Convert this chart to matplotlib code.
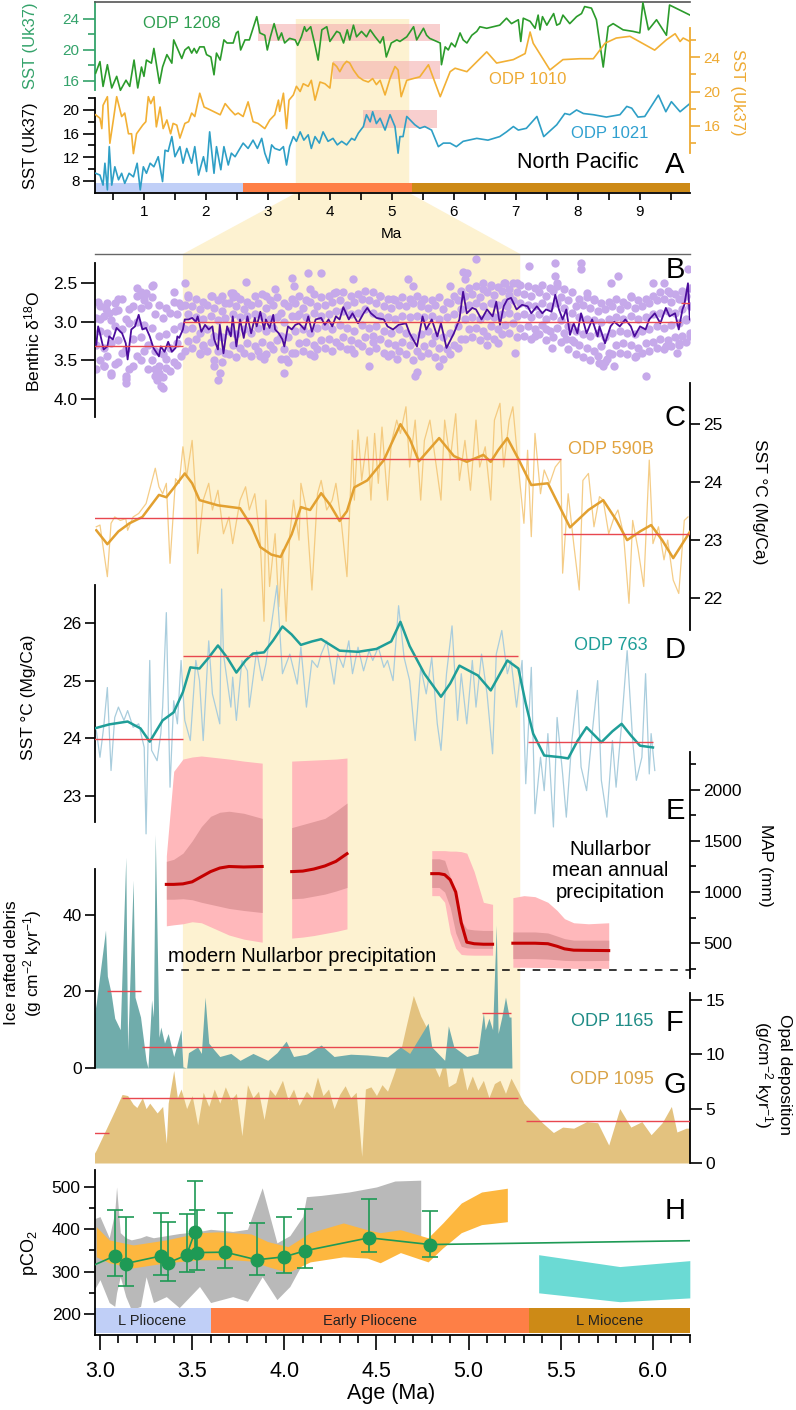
import matplotlib
matplotlib.use("Agg")
import matplotlib.pyplot as plt
import numpy as np
from matplotlib.patches import Polygon
from matplotlib.ticker import MultipleLocator

plt.rcParams["font.family"] = ["Liberation Sans", "DejaVu Sans"]
plt.rcParams["mathtext.fontset"] = "custom"
plt.rcParams["mathtext.rm"] = "Liberation Sans"
plt.rcParams["mathtext.it"] = "Liberation Sans:italic"
plt.rcParams["mathtext.default"] = "regular"

W, H = 796, 1410

# ---------------- data ----------------
# interval highlighted in yellow (Ma)
HL = (3.45, 5.28)

# Panel A, North Pacific alkenone SST
odp1208_age = [0.22, 0.29, 0.34, 0.41, 0.48, 0.56, 0.62, 0.71, 0.77, 0.84, 0.90, 0.96, 1.00, 1.04, 1.12, 1.16, 1.25,
               1.30, 1.37, 1.45, 1.48, 1.55, 1.61, 1.66, 1.72, 1.77, 1.81, 1.85, 1.90, 1.97, 2.01, 2.08, 2.13, 2.17,
               2.23, 2.29, 2.34, 2.44, 2.49, 2.52, 2.56, 2.63, 2.70, 2.76, 2.82, 2.87, 2.95, 2.99, 3.04, 3.10, 3.17,
               3.22, 3.27, 3.35, 3.44, 3.48, 3.54, 3.59, 3.62, 3.69, 3.76, 3.81, 3.87, 3.95, 4.00, 4.05, 4.11, 4.16,
               4.22, 4.28, 4.32, 4.38, 4.43, 4.51, 4.59, 4.65, 4.73, 4.81, 4.86, 4.91, 4.99, 5.08, 5.13, 5.24, 5.35,
               5.40, 5.51, 5.56, 5.61, 5.78, 5.80, 5.86, 5.91, 5.96, 6.02, 6.10, 6.15, 6.21, 6.29, 6.37, 6.42, 6.53,
               6.74, 6.85, 6.93, 7.04, 7.08, 7.12, 7.23, 7.31, 7.36, 7.39, 7.43, 7.50, 7.55, 7.61, 7.66, 7.71, 7.76,
               7.82, 7.87, 7.98, 8.06, 8.11, 8.22, 8.30, 8.41, 8.49, 8.57, 8.73, 8.89, 9.00, 9.05, 9.14, 9.27, 9.43,
               9.48, 9.81]
odp1208_sst = [17.0, 18.5, 15.3, 18.1, 15.1, 16.6, 14.8, 16.1, 15.3, 18.7, 15.1, 17.8, 16.6, 18.7, 18.3, 20.2, 15.7,
               17.8, 19.4, 18.3, 21.3, 20.0, 18.9, 20.0, 20.4, 19.6, 20.2, 19.6, 20.4, 20.4, 19.4, 19.1, 16.8, 19.6,
               18.7, 21.3, 20.9, 20.9, 22.2, 22.4, 20.0, 21.3, 21.3, 22.8, 24.3, 22.2, 21.9, 20.0, 21.7, 23.4, 21.3,
               22.2, 20.9, 21.5, 21.3, 20.6, 21.7, 23.0, 22.4, 23.0, 20.6, 18.7, 22.6, 23.0, 21.1, 21.7, 22.4, 22.2,
               20.9, 22.6, 21.3, 23.2, 21.7, 22.4, 21.7, 22.6, 21.7, 20.9, 21.7, 19.1, 20.9, 21.3, 21.1, 21.7, 23.0,
               21.3, 22.8, 21.9, 21.5, 20.9, 18.1, 20.4, 20.0, 20.9, 20.4, 22.2, 21.3, 20.9, 21.9, 22.4, 23.0, 22.8,
               23.2, 24.1, 23.4, 23.9, 21.1, 24.1, 23.7, 22.8, 24.5, 22.6, 24.3, 23.2, 23.9, 24.7, 23.2, 23.4, 24.5,
               23.9, 23.4, 24.3, 24.7, 25.6, 25.4, 23.9, 17.8, 23.0, 23.4, 22.6, 22.4, 22.2, 26.1, 22.6, 23.9, 21.9,
               25.8, 24.5]

odp1010_age = [0.22, 0.29, 0.32, 0.34, 0.41, 0.45, 0.51, 0.56, 0.64, 0.69, 0.75, 0.80, 0.83, 0.88, 0.94, 0.98, 1.03,
               1.07, 1.11, 1.16, 1.20, 1.26, 1.31, 1.37, 1.43, 1.47, 1.53, 1.58, 1.66, 1.72, 1.77, 1.82, 1.90, 1.97,
               2.06, 2.23, 2.31, 2.39, 2.47, 2.52, 2.60, 2.68, 2.76, 2.84, 2.95, 3.03, 3.11, 3.17, 3.19, 3.25, 3.30,
               3.34, 3.41, 3.46, 3.52, 3.57, 3.65, 3.70, 3.76, 3.84, 3.92, 4.00, 4.05, 4.11, 4.16, 4.22, 4.27, 4.32,
               4.38, 4.46, 4.54, 4.62, 4.69, 4.75, 4.81, 4.89, 4.97, 5.05, 5.10, 5.15, 5.24, 5.45, 5.59, 5.78, 5.94,
               6.02, 6.21, 6.53, 6.69, 6.96, 7.15, 7.23, 7.28, 7.55, 7.76, 8.03, 8.25, 8.44, 8.62, 8.84, 9.24, 9.43,
               9.57, 9.65, 9.70, 9.81]
odp1010_sst = [17.3, 16.9, 15.7, 18.4, 19.4, 14.0, 16.9, 19.4, 17.1, 17.5, 15.1, 15.1, 12.8, 15.1, 15.7, 16.1, 16.5,
               19.4, 18.6, 19.4, 15.9, 18.2, 15.7, 16.7, 15.1, 16.3, 16.1, 14.6, 16.3, 16.5, 17.5, 17.1, 19.8, 18.2,
               17.9, 17.3, 18.6, 17.9, 17.3, 17.5, 17.1, 18.8, 16.5, 16.3, 15.7, 16.7, 17.3, 19.0, 17.7, 19.8, 15.7,
               19.0, 19.6, 20.6, 20.0, 20.9, 20.6, 21.3, 19.0, 21.1, 20.9, 20.4, 23.3, 22.9, 22.3, 23.1, 23.5, 23.3,
               22.5, 21.7, 21.3, 21.1, 21.5, 20.8, 21.3, 19.6, 21.5, 22.9, 22.5, 19.4, 21.3, 21.7, 23.1, 19.4, 22.3,
               22.7, 22.3, 24.6, 23.3, 23.7, 24.4, 26.9, 25.6, 22.5, 23.7, 23.8, 23.8, 25.6, 26.2, 26.4, 24.8, 26.0,
               26.7, 25.8, 26.2, 25.8]

odp1021_age = [0.22, 0.29, 0.34, 0.37, 0.41, 0.44, 0.48, 0.53, 0.59, 0.64, 0.69, 0.76, 0.83, 0.89, 0.94, 0.99, 1.04,
               1.10, 1.16, 1.23, 1.30, 1.34, 1.39, 1.45, 1.50, 1.58, 1.63, 1.69, 1.77, 1.82, 1.88, 1.96, 2.01, 2.06,
               2.13, 2.17, 2.24, 2.29, 2.36, 2.41, 2.47, 2.52, 2.60, 2.68, 2.76, 2.83, 2.90, 2.95, 3.01, 3.06, 3.11,
               3.19, 3.25, 3.30, 3.35, 3.41, 3.46, 3.52, 3.58, 3.65, 3.70, 3.76, 3.83, 3.89, 3.97, 4.05, 4.12, 4.19,
               4.27, 4.35, 4.40, 4.46, 4.54, 4.59, 4.65, 4.69, 4.75, 4.81, 4.89, 4.97, 5.05, 5.10, 5.13, 5.18, 5.24,
               5.37, 5.45, 5.53, 5.64, 5.75, 5.83, 5.94, 6.04, 6.15, 6.37, 6.55, 6.74, 6.85, 6.96, 7.04, 7.17, 7.34,
               7.45, 7.66, 7.79, 7.87, 7.98, 8.09, 8.25, 8.46, 8.68, 8.79, 8.87, 8.97, 9.08, 9.30, 9.42, 9.51, 9.65,
               9.81]
odp1021_sst = [9.3, 9.0, 7.3, 11.0, 6.5, 13.8, 7.3, 10.4, 8.2, 9.3, 7.6, 9.3, 8.7, 11.0, 6.5, 10.4, 9.3, 11.0, 10.4,
               12.1, 7.9, 13.2, 13.0, 15.5, 12.1, 13.8, 11.0, 13.5, 11.0, 13.8, 9.0, 12.1, 9.6, 16.3, 9.3, 13.8, 9.9,
               13.8, 10.7, 12.7, 12.1, 13.0, 14.4, 13.5, 14.9, 13.5, 15.2, 12.7, 11.0, 14.1, 13.5, 13.2, 13.8, 10.7,
               13.8, 15.5, 14.7, 16.3, 14.9, 15.8, 13.5, 15.5, 14.4, 16.3, 14.7, 15.2, 14.1, 14.7, 14.1, 15.2, 14.9,
               16.1, 17.2, 19.2, 18.0, 19.7, 17.7, 18.6, 16.6, 19.2, 17.2, 12.7, 15.5, 15.5, 18.9, 17.5, 16.9, 17.2,
               16.6, 13.8, 14.4, 14.4, 13.8, 14.7, 15.2, 14.9, 15.5, 16.3, 17.2, 16.6, 16.9, 18.9, 15.5, 17.5, 19.4,
               19.2, 20.0, 19.4, 19.2, 18.8, 19.2, 20.6, 20.3, 18.8, 18.9, 22.5, 19.7, 21.4, 19.7, 21.1]

# warm-interval boxes in panel A: (start, end, low, high)
box_1208 = (2.84, 5.78, 21.2, 23.4)
box_1010 = (4.05, 5.78, 21.5, 23.5)
box_1021 = (4.54, 5.72, 17.0, 20.0)

# epoch bars
epochA_edges = [0.21, 2.6, 5.33, 9.81]
epochH_edges = [2.97, 3.6, 5.33, 6.2]
epoch_names = ["L Pliocene", "Early Pliocene", "L Miocene"]
epoch_colors = ["#C0CFF7", "#FE7F46", "#CD8A16"]

# Panel B, benthic d18O
benthic_age = [2.98, 2.99, 3.00, 3.02, 3.04, 3.05, 3.07, 3.09, 3.12, 3.14, 3.15, 3.17, 3.19, 3.21, 3.23, 3.25, 3.27,
               3.29, 3.32, 3.33, 3.35, 3.37, 3.39, 3.41, 3.42, 3.43, 3.45, 3.46, 3.48, 3.50, 3.52, 3.53, 3.55, 3.57,
               3.59, 3.61, 3.62, 3.64, 3.65, 3.67, 3.69, 3.71, 3.72, 3.74, 3.76, 3.78, 3.80, 3.82, 3.84, 3.85, 3.87,
               3.89, 3.90, 3.92, 3.94, 3.95, 3.97, 3.99, 4.00, 4.02, 4.04, 4.06, 4.08, 4.11, 4.13, 4.15, 4.17, 4.20,
               4.22, 4.24, 4.26, 4.28, 4.30, 4.32, 4.35, 4.37, 4.40, 4.43, 4.45, 4.47, 4.50, 4.54, 4.56, 4.59, 4.62,
               4.66, 4.68, 4.72, 4.75, 4.77, 4.80, 4.83, 4.85, 4.88, 4.92, 4.95, 4.97, 4.99, 5.02, 5.04, 5.07, 5.10,
               5.13, 5.15, 5.17, 5.19, 5.21, 5.23, 5.26, 5.29, 5.32, 5.34, 5.37, 5.40, 5.42, 5.45, 5.47, 5.49, 5.51,
               5.53, 5.55, 5.57, 5.59, 5.61, 5.64, 5.67, 5.70, 5.71, 5.74, 5.77, 5.79, 5.82, 5.85, 5.88, 5.90, 5.93,
               5.96, 5.98, 6.01, 6.04, 6.07, 6.09, 6.12, 6.14, 6.16, 6.17, 6.19, 6.20]
benthic_d18o = [3.30, 3.06, 3.15, 3.36, 3.32, 3.19, 3.23, 3.08, 3.15, 3.28, 3.49, 3.10, 3.06, 2.91, 3.10, 3.08, 3.19,
                3.34, 3.45, 3.32, 3.39, 3.26, 3.39, 3.34, 3.19, 3.21, 3.10, 2.97, 2.97, 2.95, 3.00, 2.93, 3.13, 3.04,
                3.10, 3.06, 3.23, 3.36, 3.04, 3.41, 3.06, 3.19, 2.93, 3.32, 2.97, 3.21, 2.93, 3.15, 2.95, 3.06, 2.87,
                3.10, 2.97, 3.08, 2.91, 3.10, 3.15, 3.23, 3.32, 3.06, 3.10, 3.04, 3.02, 3.10, 2.93, 3.13, 2.97, 2.95,
                3.04, 2.97, 3.06, 2.93, 2.97, 2.81, 2.97, 2.89, 3.02, 2.89, 2.82, 2.89, 2.95, 2.97, 3.06, 3.10, 3.04,
                3.02, 3.15, 3.32, 2.93, 3.10, 2.97, 3.19, 3.02, 3.34, 3.15, 2.97, 2.61, 2.89, 2.82, 2.84, 2.97, 2.84,
                2.93, 2.74, 3.04, 2.80, 2.71, 2.69, 2.84, 2.78, 2.80, 2.89, 2.80, 2.89, 2.84, 2.87, 2.65, 2.84, 2.97,
                2.84, 3.17, 3.02, 3.15, 2.89, 3.15, 2.97, 3.19, 3.06, 3.28, 3.06, 3.00, 3.06, 2.97, 3.06, 3.19, 3.06,
                3.10, 2.97, 2.89, 3.02, 2.82, 2.93, 2.89, 3.10, 2.84, 2.78, 2.50, 2.97]

# individual benthic measurements (scatter cloud)
cloud_age_a = [2.98, 3.02, 3.06, 3.10, 3.14, 3.18, 3.22, 3.26, 3.30, 3.34, 3.38, 3.42, 3.46, 3.50, 3.54, 3.58, 3.62,
               3.66, 3.70, 3.74, 3.78, 3.82, 3.86, 3.90, 3.94, 3.98, 4.02, 4.06, 4.10, 4.14, 4.18, 4.22, 4.26, 4.30,
               4.34, 4.38, 4.42, 4.46, 4.50, 4.54, 4.58, 4.62, 4.66, 4.70, 4.74, 4.78, 4.82, 4.86, 4.90, 4.94, 4.98,
               5.02, 5.06, 5.10, 5.14, 5.18, 5.22, 5.26, 5.30, 5.34, 5.38, 5.42, 5.46, 5.50, 5.54, 5.58, 5.62, 5.66,
               5.70, 5.74, 5.78, 5.82, 5.86, 5.90, 5.94, 5.98, 6.02, 6.06, 6.10, 6.14, 6.18]
cloud_age_b = [3.00, 3.04, 3.08, 3.12, 3.16, 3.20, 3.24, 3.28, 3.32, 3.36, 3.40, 3.44, 3.48, 3.52, 3.56, 3.60, 3.64,
               3.68, 3.72, 3.76, 3.80, 3.84, 3.88, 3.92, 3.96, 4.00, 4.04, 4.08, 4.12, 4.16, 4.20, 4.24, 4.28, 4.32,
               4.36, 4.40, 4.44, 4.48, 4.52, 4.56, 4.60, 4.64, 4.68, 4.72, 4.76, 4.80, 4.84, 4.88, 4.92, 4.96, 5.00,
               5.04, 5.08, 5.12, 5.16, 5.20, 5.24, 5.28, 5.32, 5.36, 5.40, 5.44, 5.48, 5.52, 5.56, 5.60, 5.64, 5.68,
               5.72, 5.76, 5.80, 5.84, 5.88, 5.92, 5.96, 6.00, 6.04, 6.08, 6.12, 6.16, 6.20]
cloud_top = [2.80, 2.75, 2.86, 2.70, 2.84, 2.66, 2.72, 2.68, 2.78, 2.82, 2.74, 2.80, 2.68, 2.70, 2.74, 2.66, 2.72,
             2.76, 2.68, 2.70, 2.74, 2.66, 2.64, 2.72, 2.68, 2.76, 2.70, 2.66, 2.72, 2.64, 2.68, 2.66, 2.62, 2.62,
             2.66, 2.64, 2.60, 2.62, 2.66, 2.70, 2.72, 2.68, 2.70, 2.66, 2.70, 2.72, 2.68, 2.74, 2.66, 2.60, 2.56,
             2.54, 2.58, 2.52, 2.55, 2.50, 2.50, 2.52, 2.54, 2.56, 2.52, 2.56, 2.50, 2.58, 2.62, 2.70, 2.68, 2.72,
             2.76, 2.74, 2.70, 2.74, 2.68, 2.72, 2.70, 2.66, 2.62, 2.60, 2.64, 2.60, 2.56]
cloud_upper = [2.95, 2.92, 2.98, 2.85, 2.96, 2.80, 2.82, 2.78, 2.90, 2.95, 2.88, 2.90, 2.78, 2.80, 2.84, 2.78, 2.82,
               2.86, 2.76, 2.80, 2.84, 2.78, 2.75, 2.82, 2.78, 2.88, 2.80, 2.76, 2.82, 2.74, 2.80, 2.78, 2.74, 2.72,
               2.78, 2.74, 2.70, 2.72, 2.76, 2.80, 2.82, 2.78, 2.80, 2.76, 2.80, 2.82, 2.78, 2.84, 2.76, 2.72, 2.66,
               2.64, 2.68, 2.62, 2.65, 2.60, 2.58, 2.62, 2.64, 2.66, 2.62, 2.66, 2.60, 2.68, 2.72, 2.80, 2.78, 2.82,
               2.86, 2.84, 2.80, 2.84, 2.78, 2.82, 2.80, 2.76, 2.72, 2.70, 2.74, 2.70, 2.66]
cloud_mid_upper = [3.12, 3.15, 3.05, 3.10, 3.02, 3.00, 3.04, 3.08, 3.18, 3.16, 3.10, 3.05, 2.90, 2.94, 2.96, 2.92, 2.98,
                   2.95, 2.90, 2.94, 2.92, 2.90, 2.92, 2.96, 2.94, 3.00, 2.92, 2.90, 2.94, 2.88, 2.92, 2.90, 2.86, 2.86,
                   2.90, 2.88, 2.84, 2.88, 2.92, 2.94, 2.96, 2.92, 2.94, 2.92, 2.94, 2.92, 2.96, 2.94, 2.90, 2.84, 2.78,
                   2.76, 2.80, 2.76, 2.78, 2.74, 2.72, 2.76, 2.78, 2.80, 2.76, 2.80, 2.76, 2.82, 2.88, 2.94, 2.96, 2.98,
                   3.00, 2.96, 2.94, 2.96, 2.92, 2.96, 2.94, 2.90, 2.88, 2.86, 2.88, 2.84, 2.80]
cloud_mid_lower = [3.30, 3.34, 3.28, 3.24, 3.36, 3.22, 3.20, 3.30, 3.38, 3.42, 3.34, 3.28, 3.10, 3.08, 3.14, 3.10, 3.18,
                   3.20, 3.12, 3.16, 3.10, 3.14, 3.08, 3.12, 3.08, 3.18, 3.20, 3.12, 3.10, 3.14, 3.08, 3.06, 3.10, 3.04,
                   3.08, 3.12, 3.04, 3.08, 3.06, 3.12, 3.14, 3.10, 3.14, 3.20, 3.16, 3.12, 3.18, 3.20, 3.14, 3.06, 2.96,
                   2.94, 2.96, 2.92, 2.94, 2.90, 2.88, 2.92, 2.90, 2.94, 2.90, 2.96, 2.92, 2.98, 3.06, 3.12, 3.16, 3.18,
                   3.14, 3.20, 3.14, 3.12, 3.14, 3.16, 3.12, 3.10, 3.06, 3.08, 3.04, 3.02, 2.98]
cloud_lower = [3.50, 3.45, 3.55, 3.40, 3.62, 3.45, 3.38, 3.50, 3.58, 3.60, 3.52, 3.44, 3.25, 3.22, 3.30, 3.26, 3.38,
               3.40, 3.30, 3.34, 3.28, 3.32, 3.26, 3.30, 3.24, 3.36, 3.40, 3.28, 3.26, 3.30, 3.24, 3.22, 3.26, 3.20,
               3.24, 3.28, 3.20, 3.26, 3.22, 3.28, 3.30, 3.26, 3.30, 3.38, 3.32, 3.28, 3.34, 3.36, 3.30, 3.22, 3.10,
               3.08, 3.12, 3.06, 3.10, 3.04, 3.02, 3.08, 3.06, 3.10, 3.04, 3.12, 3.08, 3.14, 3.24, 3.30, 3.34, 3.38,
               3.32, 3.40, 3.30, 3.28, 3.30, 3.34, 3.28, 3.26, 3.22, 3.24, 3.20, 3.18, 3.14]
cloud_bottom = [3.62, 3.58, 3.66, 3.52, 3.74, 3.58, 3.50, 3.62, 3.70, 3.72, 3.64, 3.56, 3.38, 3.34, 3.42, 3.38, 3.50,
                3.52, 3.42, 3.46, 3.40, 3.44, 3.38, 3.42, 3.36, 3.48, 3.52, 3.40, 3.38, 3.42, 3.36, 3.34, 3.38, 3.32,
                3.36, 3.40, 3.32, 3.38, 3.34, 3.40, 3.42, 3.38, 3.42, 3.50, 3.44, 3.40, 3.46, 3.48, 3.42, 3.34, 3.22,
                3.20, 3.24, 3.18, 3.22, 3.16, 3.14, 3.20, 3.18, 3.22, 3.16, 3.24, 3.20, 3.26, 3.36, 3.42, 3.46, 3.50,
                3.44, 3.52, 3.42, 3.40, 3.42, 3.46, 3.40, 3.38, 3.34, 3.36, 3.32, 3.30, 3.26]
outlier_age = [2.99, 3.00, 3.02, 3.03, 3.05, 3.06, 3.08, 3.10, 3.14, 3.14, 3.20, 3.22, 3.24, 3.25, 3.28, 3.29, 3.30,
               3.31, 3.33, 3.34, 3.32, 3.36, 3.40, 3.43, 3.46, 3.48, 3.54, 3.56, 3.61, 3.62, 3.64, 3.65, 3.66, 3.71,
               3.72, 3.74, 3.79, 3.87, 3.89, 3.90, 3.95, 4.00, 4.01, 4.04, 4.05, 4.07, 4.13, 4.14, 4.16, 4.20, 4.27,
               4.36, 4.37, 4.46, 4.48, 4.56, 4.61, 4.52, 4.59, 4.67, 4.70, 4.74, 4.72, 4.71, 4.84, 4.90, 4.97, 4.99,
               5.04, 4.98, 5.08, 5.10, 5.12, 5.13, 5.16, 5.19, 5.21, 5.22, 5.25, 5.26, 5.33, 5.36, 5.42, 5.45, 5.47,
               5.47, 5.48, 5.53, 5.57, 5.61, 5.61, 5.64, 5.68, 5.71, 5.73, 5.75, 5.79, 5.77, 5.81, 5.88, 5.91, 5.96,
               6.00, 6.06, 6.07, 6.09, 6.13, 6.14, 6.16, 6.18, 6.19, 6.20]
outlier_d18o = [2.74, 2.97, 3.58, 2.84, 2.89, 3.69, 2.76, 2.71, 3.80, 3.71, 2.56, 2.61, 2.67, 2.63, 2.54, 2.52, 3.62,
                3.75, 3.84, 3.86, 3.67, 3.49, 2.61, 2.76, 2.50, 2.65, 3.41, 3.32, 2.67, 3.58, 3.75, 3.67, 2.67, 2.63,
                2.63, 2.67, 2.48, 3.45, 3.49, 2.67, 2.58, 3.67, 3.49, 2.43, 2.54, 2.93, 2.37, 2.58, 3.45, 2.37, 2.63,
                3.36, 2.45, 3.58, 3.19, 3.45, 3.49, 2.67, 2.71, 2.45, 2.54, 2.76, 3.65, 3.71, 3.58, 2.54, 2.35, 2.37,
                2.19, 2.45, 2.50, 3.30, 2.54, 2.76, 3.28, 2.50, 2.80, 2.65, 3.41, 2.50, 2.28, 3.19, 3.10, 3.34, 2.24,
                2.41, 2.54, 3.23, 3.26, 2.24, 2.32, 2.63, 2.71, 3.54, 3.58, 3.49, 3.58, 2.50, 2.41, 2.67, 3.45, 3.71,
                2.50, 2.50, 3.32, 2.63, 3.41, 3.28, 2.71, 2.97, 2.32, 3.19]
benthic_mean_start = [2.97, 3.45, 6.15]
benthic_mean_end = [3.45, 6.15, 6.20]
benthic_mean = [3.31, 3.00, 2.75]

# Panel C, ODP 590B Mg/Ca SST
c_raw_age = [2.98, 3.00, 3.04, 3.06, 3.08, 3.11, 3.14, 3.15, 3.18, 3.21, 3.25, 3.30, 3.32, 3.34, 3.36, 3.38, 3.41,
             3.43, 3.45, 3.47, 3.50, 3.52, 3.53, 3.56, 3.59, 3.61, 3.64, 3.67, 3.70, 3.72, 3.76, 3.79, 3.81, 3.84,
             3.87, 3.89, 3.90, 3.92, 3.95, 3.97, 3.99, 4.01, 4.03, 4.05, 4.08, 4.09, 4.12, 4.15, 4.18, 4.20, 4.23,
             4.26, 4.28, 4.31, 4.34, 4.37, 4.38, 4.40, 4.42, 4.45, 4.47, 4.49, 4.51, 4.53, 4.56, 4.58, 4.61, 4.63,
             4.66, 4.68, 4.71, 4.74, 4.76, 4.79, 4.82, 4.85, 4.87, 4.90, 4.93, 4.95, 4.98, 5.01, 5.04, 5.06, 5.09,
             5.12, 5.14, 5.17, 5.19, 5.22, 5.24, 5.27, 5.30, 5.32, 5.34, 5.36, 5.39, 5.41, 5.44, 5.47, 5.50, 5.51,
             5.54, 5.57, 5.60, 5.62, 5.65, 5.68, 5.71, 5.73, 5.76, 5.79, 5.81, 5.84, 5.87, 5.89, 5.92, 5.95, 5.98,
             6.00, 6.03, 6.06, 6.08, 6.11, 6.14, 6.17, 6.19]
c_raw = [23.23, 23.26, 22.37, 23.29, 23.40, 23.34, 23.37, 23.17, 23.40, 23.46, 23.63, 24.24, 23.92, 23.80, 23.98,
         22.60, 24.06, 23.98, 24.61, 24.09, 24.72, 23.75, 22.77, 23.69, 23.98, 23.52, 23.86, 23.11, 23.40, 22.94,
         23.69, 23.92, 23.52, 23.80, 22.94, 21.60, 23.69, 22.20, 23.11, 21.85, 22.83, 21.60, 23.11, 23.69, 23.00,
         23.98, 23.52, 22.14, 23.80, 24.03, 23.52, 23.69, 23.98, 23.29, 22.37, 24.72, 23.69, 24.90, 24.03, 24.78,
         23.69, 24.84, 23.98, 24.95, 23.69, 24.67, 25.07, 24.84, 25.30, 24.26, 25.07, 23.69, 24.72, 25.07, 24.38,
         23.69, 25.07, 24.38, 25.18, 24.03, 24.72, 23.86, 25.07, 24.26, 24.61, 23.69, 25.07, 25.36, 24.26, 25.07,
         25.30, 24.26, 23.29, 24.55, 23.06, 24.84, 23.80, 24.21, 23.98, 24.26, 24.38, 22.43, 23.80, 22.94, 22.14,
         24.03, 24.15, 23.23, 23.75, 23.69, 23.11, 23.40, 23.52, 23.11, 21.91, 23.34, 22.83, 22.20, 24.38, 22.94,
         23.23, 22.66, 23.00, 22.31, 22.08, 23.34, 23.40]
c_smooth_age = [2.98, 3.04, 3.10, 3.16, 3.23, 3.32, 3.36, 3.40, 3.46, 3.50, 3.54, 3.64, 3.76, 3.82, 3.87, 3.93, 3.98,
                4.04, 4.09, 4.14, 4.20, 4.25, 4.30, 4.34, 4.38, 4.45, 4.54, 4.63, 4.68, 4.73, 4.84, 4.92, 4.99, 5.08,
                5.12, 5.16, 5.21, 5.27, 5.34, 5.43, 5.49, 5.55, 5.65, 5.73, 5.80, 5.86, 5.93, 5.99, 6.05, 6.11, 6.20]
c_smooth = [23.17, 22.93, 23.15, 23.29, 23.40, 23.78, 23.74, 23.90, 24.15, 23.98, 23.69, 23.60, 23.55, 23.25, 22.88,
            22.75, 22.71, 23.10, 23.57, 23.52, 23.81, 23.60, 23.33, 23.50, 23.91, 24.03, 24.38, 25.00, 24.75, 24.36,
            24.76, 24.45, 24.35, 24.47, 24.35, 24.55, 24.76, 24.40, 23.95, 23.98, 23.60, 23.22, 23.52, 23.69, 23.35,
            23.00, 23.15, 23.26, 23.00, 22.69, 23.14]
c_mean_start = [2.97, 4.37, 5.51]
c_mean_end = [4.35, 5.50, 6.20]
c_mean = [23.38, 24.40, 23.10]

# Panel D, ODP 763 Mg/Ca SST
d_raw_age = [2.98, 3.00, 3.02, 3.04, 3.06, 3.08, 3.10, 3.13, 3.15, 3.18, 3.21, 3.24, 3.25, 3.27, 3.28, 3.31, 3.33,
             3.34, 3.36, 3.38, 3.40, 3.42, 3.44, 3.46, 3.49, 3.52, 3.54, 3.56, 3.59, 3.61, 3.65, 3.66, 3.67, 3.71,
             3.72, 3.74, 3.77, 3.80, 3.81, 3.85, 3.88, 3.90, 3.96, 3.99, 4.03, 4.07, 4.09, 4.12, 4.15, 4.18, 4.20,
             4.23, 4.27, 4.29, 4.32, 4.35, 4.37, 4.40, 4.43, 4.46, 4.48, 4.51, 4.54, 4.56, 4.59, 4.62, 4.65, 4.68,
             4.71, 4.74, 4.77, 4.80, 4.83, 4.85, 4.88, 4.91, 4.94, 4.96, 4.99, 5.02, 5.04, 5.07, 5.10, 5.13, 5.15,
             5.18, 5.21, 5.23, 5.26, 5.29, 5.31, 5.34, 5.36, 5.39, 5.41, 5.43, 5.46, 5.48, 5.51, 5.53, 5.56, 5.59,
             5.61, 5.64, 5.67, 5.70, 5.72, 5.75, 5.78, 5.80, 5.83, 5.86, 5.89, 5.91, 5.94, 5.96, 5.98, 5.99, 6.01]
d_raw = [24.13, 23.67, 24.19, 24.88, 23.44, 24.36, 24.54, 24.31, 24.48, 24.19, 24.25, 23.84, 22.34, 25.35, 23.79,
         23.61, 24.08, 24.54, 26.18, 23.15, 24.65, 24.25, 25.35, 24.31, 23.96, 25.35, 25.00, 23.96, 25.69, 24.77,
         24.25, 26.59, 25.46, 24.54, 25.06, 24.31, 25.35, 25.17, 24.54, 25.52, 25.00, 25.29, 26.65, 25.12, 25.46,
         24.94, 25.58, 24.54, 25.35, 25.23, 25.46, 25.69, 24.94, 25.46, 25.23, 25.69, 25.12, 25.58, 25.17, 25.52,
         25.35, 25.58, 25.23, 25.35, 25.00, 26.30, 25.40, 25.00, 23.96, 25.23, 24.77, 25.40, 24.25, 23.79, 25.12,
         25.95, 24.31, 25.12, 24.25, 25.35, 24.54, 25.46, 24.77, 23.73, 25.46, 25.87, 25.12, 25.35, 24.54, 25.35,
         23.21, 25.23, 22.69, 23.67, 23.09, 24.08, 22.46, 24.36, 23.38, 22.63, 23.96, 24.83, 23.50, 23.09, 24.08,
         25.00, 23.27, 22.63, 23.96, 23.15, 24.25, 25.52, 23.96, 23.27, 23.67, 25.12, 23.38, 24.08, 23.44]
d_smooth_age = [2.97, 3.05, 3.15, 3.22, 3.27, 3.34, 3.40, 3.45, 3.49, 3.54, 3.59, 3.64, 3.69, 3.74, 3.79, 3.83, 3.89,
                3.94, 3.99, 4.04, 4.09, 4.15, 4.20, 4.25, 4.30, 4.40, 4.50, 4.58, 4.63, 4.68, 4.76, 4.85, 4.90, 4.95,
                5.05, 5.12, 5.21, 5.27, 5.31, 5.35, 5.41, 5.50, 5.54, 5.59, 5.64, 5.72, 5.78, 5.83, 5.88, 5.93, 6.00]
d_smooth = [24.17, 24.24, 24.29, 24.17, 23.94, 24.31, 24.45, 24.80, 25.23, 25.21, 25.40, 25.61, 25.40, 25.14, 25.35,
            25.47, 25.49, 25.70, 25.94, 25.80, 25.62, 25.68, 25.72, 25.62, 25.52, 25.50, 25.55, 25.68, 26.02, 25.60,
            25.12, 24.72, 24.95, 25.26, 25.09, 24.83, 25.35, 25.21, 24.60, 24.08, 23.70, 23.67, 23.65, 23.95, 24.19,
            23.93, 24.12, 24.25, 24.05, 23.87, 23.84]
d_mean_start = [2.97, 3.45, 5.32]
d_mean_end = [3.45, 5.27, 6.00]
d_mean = [23.98, 25.42, 23.93]

# Panel E, Nullarbor mean annual precipitation (mm): median, 68% and 95% bands
e1_age = [3.36, 3.40, 3.45, 3.50, 3.55, 3.60, 3.65, 3.70, 3.78, 3.88]
e1_med = [1075, 1075, 1080, 1100, 1150, 1200, 1235, 1250, 1245, 1250]
e1_in_lo = [930, 930, 935, 925, 900, 880, 860, 840, 820, 800]
e1_in_hi = [1300, 1320, 1380, 1500, 1640, 1740, 1780, 1790, 1770, 1720]
e1_out_lo = [670, 680, 690, 710, 700, 660, 620, 580, 540, 510]
e1_out_hi = [1354, 2180, 2300, 2320, 2330, 2320, 2310, 2300, 2280, 2260]
e2_age = [4.04, 4.10, 4.16, 4.22, 4.28, 4.34]
e2_med = [1200, 1205, 1225, 1255, 1300, 1375]
e2_in_lo = [935, 940, 960, 980, 1010, 1045]
e2_in_hi = [1630, 1660, 1690, 1720, 1790, 1870]
e2_out_lo = [550, 560, 575, 595, 615, 640]
e2_out_hi = [2280, 2285, 2290, 2295, 2300, 2310]
e3_age = [4.80, 4.84, 4.87, 4.90, 4.93, 4.96, 4.99, 5.03, 5.08, 5.13]
e3_med = [1180, 1180, 1170, 1120, 1000, 700, 510, 495, 490, 490]
e3_in_lo = [1045, 1045, 1000, 850, 600, 470, 455, 450, 450, 450]
e3_in_hi = [1325, 1325, 1310, 1150, 950, 720, 640, 630, 625, 625]
e3_out_lo = [965, 965, 900, 600, 450, 390, 385, 383, 383, 383]
e3_out_hi = [1405, 1405, 1405, 1400, 1400, 1395, 1380, 1200, 900, 880]
e4_age = [5.24, 5.30, 5.36, 5.43, 5.48, 5.52, 5.57, 5.65, 5.76]
e4_med = [500, 500, 500, 495, 470, 445, 432, 430, 428]
e4_in_lo = [350, 350, 350, 345, 338, 332, 330, 330, 332]
e4_in_hi = [610, 610, 610, 600, 570, 545, 530, 530, 530]
e4_out_lo = [265, 265, 263, 262, 260, 257, 255, 255, 255]
e4_out_hi = [945, 965, 955, 900, 820, 740, 700, 690, 700]
modern_map = 240
modern_map_start = 3.36

# Panel F, ODP 1165 ice rafted debris
f_age = [2.97, 2.98, 3.03, 3.04, 3.06, 3.08, 3.11, 3.14, 3.15, 3.18, 3.19, 3.22, 3.25, 3.26, 3.28, 3.29, 3.30, 3.32,
         3.33, 3.35, 3.37, 3.40, 3.42, 3.44, 3.45, 3.47, 3.48, 3.53, 3.55, 3.57, 3.59, 3.62, 3.65, 3.71, 3.76, 3.83,
         3.91, 3.96, 4.01, 4.05, 4.12, 4.20, 4.27, 4.36, 4.45, 4.56, 4.63, 4.68, 4.78, 4.80, 4.87, 4.89, 4.92, 4.99,
         5.05, 5.08, 5.09, 5.11, 5.13, 5.15, 5.16, 5.18, 5.20, 5.22, 5.23, 5.235]
f_ird = [14, 17, 36, 24, 19.6, 13, 10, 55, 4.7, 49, 18.5, 13.3, 2, 0, 17.8, 13.3, 61, 8, 10.7, 6.5, 9, 3, 6.5, 10,
         0.3, 0, 4, 5.5, 3.8, 18.5, 6.5, 4.7, 3, 3.8, 2, 3.8, 2, 4, 7, 3, 3.6, 6, 3, 3.6, 3.4, 2.9, 5.5, 3.8, 11.7,
         5.5, 2, 11, 5.5, 3, 3.8, 14.4, 10, 13, 10, 37.3, 9, 13.3, 18.5, 13.3, 13.3, 0]
f_mean_start = [3.04, 3.23, 5.07]
f_mean_end = [3.22, 5.05, 5.23]
f_mean = [20.0, 5.5, 14.4]

# Panel G, ODP 1095 opal deposition
g_age = [2.97, 2.98, 3.03, 3.08, 3.12, 3.15, 3.18, 3.20, 3.23, 3.25, 3.27, 3.31, 3.34, 3.36, 3.37, 3.40, 3.42, 3.44,
         3.47, 3.50, 3.53, 3.56, 3.59, 3.62, 3.65, 3.68, 3.71, 3.74, 3.77, 3.80, 3.83, 3.86, 3.89, 3.92, 3.95, 3.99,
         4.02, 4.05, 4.08, 4.12, 4.15, 4.18, 4.21, 4.24, 4.27, 4.30, 4.33, 4.36, 4.39, 4.42, 4.44, 4.47, 4.50, 4.53,
         4.56, 4.59, 4.62, 4.66, 4.70, 4.74, 4.77, 4.78, 4.81, 4.84, 4.87, 4.89, 4.93, 4.96, 4.99, 5.02, 5.05, 5.08,
         5.11, 5.14, 5.17, 5.20, 5.23, 5.27, 5.30, 5.35, 5.40, 5.46, 5.51, 5.57, 5.64, 5.70, 5.76, 5.82, 5.88, 5.94,
         5.99, 6.05, 6.10, 6.13, 6.18, 6.20]
g_opal = [0.9, 1.2, 3.0, 4.8, 6.3, 6.2, 5.4, 5.1, 6.0, 5.0, 5.5, 4.6, 5.2, 1.8, 5.5, 8.5, 6.0, 6.8, 5.0, 6.2, 3.5,
          6.5, 5.2, 6.8, 5.5, 7.0, 5.8, 6.4, 2.5, 7.2, 6.0, 6.6, 4.0, 6.8, 6.2, 7.6, 5.8, 6.8, 5.3, 6.6, 6.0, 7.9,
          6.2, 6.8, 5.0, 6.3, 7.1, 6.0, 6.5, 0.6, 6.8, 7.0, 6.2, 7.2, 6.6, 8.0, 9.5, 12.5, 15.4, 13.5, 12.5, 10.4,
          9.0, 7.9, 9.5, 7.0, 7.4, 9.2, 6.7, 8.0, 6.7, 7.6, 6.0, 7.3, 7.6, 6.4, 7.8, 6.5, 5.5, 4.6, 3.7, 2.8, 3.3,
          3.2, 3.8, 3.7, 1.65, 5.0, 3.3, 3.8, 2.6, 3.7, 5.2, 2.85, 3.2, 3.2]
g_mean_start = [2.97, 3.12, 5.31]
g_mean_end = [3.05, 5.27, 6.20]
g_mean = [2.76, 6.0, 3.86]

# Panel H, pCO2 reconstructions
gray_age = [2.97, 3.00, 3.05, 3.08, 3.09, 3.11, 3.14, 3.17, 3.22, 3.25, 3.29, 3.36, 3.43, 3.54, 3.60, 3.72, 3.80,
            3.88, 3.96, 4.03, 4.10, 4.12, 4.20, 4.35, 4.50, 4.60, 4.74]
gray_hi = [425, 430, 380, 440, 500, 392, 380, 375, 380, 385, 380, 385, 390, 395, 400, 395, 400, 498, 368, 385, 430,
           477, 480, 488, 500, 514, 516]
gray_lo = [258, 281, 227, 218, 250, 288, 241, 210, 218, 288, 227, 241, 215, 265, 227, 241, 230, 288, 234, 265, 321,
           330, 335, 340, 345, 350, 360]
band_age = [2.98, 3.05, 3.18, 3.36, 3.54, 3.64, 3.72, 3.82, 3.91, 4.02, 4.14, 4.32, 4.45, 4.52, 4.63, 4.78, 4.86,
            4.96, 5.07, 5.21]
band_hi = [406, 375, 363, 375, 392, 394, 392, 389, 371, 359, 392, 415, 399, 392, 399, 380, 415, 462, 488, 497]
band_lo = [335, 321, 309, 321, 328, 328, 328, 325, 312, 298, 323, 335, 332, 321, 345, 323, 356, 392, 411, 418]
cyan_age = [5.38, 5.82, 6.20]
cyan_hi = [340, 312, 326]
cyan_lo = [250, 229, 238]
boron_age = [3.08, 3.14, 3.33, 3.37, 3.47, 3.515, 3.525, 3.68, 3.85, 4.00, 4.11, 4.46, 4.79]
boron_co2 = [337, 319, 337, 321, 339, 394, 345, 346, 328, 335, 349, 380, 364]
boron_hi = [446, 429, 439, 418, 436, 514, 446, 439, 415, 429, 448, 472, 444]
boron_lo = [290, 267, 293, 279, 300, 345, 303, 309, 293, 297, 309, 347, 335]
trend_age = [2.97, 3.08, 3.14, 3.33, 3.37, 3.47, 3.515, 3.525, 3.68, 3.85, 4.00, 4.11, 4.46, 4.79, 6.20]
trend_co2 = [316, 337, 319, 337, 321, 339, 394, 345, 346, 328, 335, 349, 380, 364, 373]

# ---------------- colours ----------------
YELLOW = "#FDF2D1"
RED = "#E8474F"
G_LINE, G_AX = "#2B9B2B", "#33A26A"
O_LINE, O_AX = "#F2B035", "#EEAA33"
B_LINE = "#2E9FC6"


def add_ax(fig, left, top, right, bottom):
    ax = fig.add_axes([left / W, 1 - bottom / H, (right - left) / W, (bottom - top) / H])
    ax.patch.set_alpha(0)
    for s in ax.spines.values():
        s.set_visible(False)
    ax.set_xticks([])
    ax.set_yticks([])
    return ax


def yaxis(ax, side, lim, bounds, major, minor=(), color="black", length=10, size=12.5):
    ax.set_ylim(*lim)
    sp = ax.spines[side]
    sp.set_visible(True)
    sp.set_bounds(*bounds)
    sp.set_color(color)
    sp.set_linewidth(1.3)
    if side == "right":
        ax.yaxis.tick_right()
    else:
        ax.yaxis.tick_left()
    ax.set_yticks(major)
    ax.set_yticks(list(minor), minor=True)
    ax.tick_params(axis="y", which="major", length=length * 0.72, width=1.2, color=color,
                   labelcolor=color, labelsize=size, pad=2.5)
    ax.tick_params(axis="y", which="minor", length=length * 0.4, width=1.2, color=color)


def ftext(fig, x, y, s, **kw):
    ha = kw.pop("ha", "center")
    va = kw.pop("va", "center")
    fig.text(x / W, 1 - y / H, s, ha=ha, va=va, **kw)


def means(ax, starts, ends, vals):
    ax.hlines(vals, starts, ends, color=RED, lw=1.0, zorder=5)


def main():
    fig = plt.figure(figsize=(W / 100, H / 100), dpi=100)

    # ---------- A ----------
    axA_g = add_ax(fig, 95, 2, 690, 193)
    axA_b = add_ax(fig, 95, 2, 690, 193)
    axA_o = add_ax(fig, 95, 2, 690, 193)
    for ax in (axA_g, axA_b, axA_o):
        ax.set_xlim(0.21, 9.81)
    yaxis(axA_g, "left", (1.55, 26.19), (14.84, 26.19), [16, 20, 24], [18, 22], color=G_AX, length=12, size=11)
    axA_g.spines["top"].set_visible(True)
    axA_g.spines["top"].set_color("#555555")
    axA_g.spines["top"].set_linewidth(1.2)
    yaxis(axA_b, "left", (5.97, 38.24), (5.97, 22.03), [8, 12, 16, 20], [10, 14, 18, 22], length=12, size=11)
    yaxis(axA_o, "right", (8.23, 30.38), (12.87, 27.36), [16, 20, 24], [14, 18, 22, 26], color=O_AX,
          length=10, size=11)
    axA_b.spines["bottom"].set_visible(True)
    axA_b.spines["bottom"].set_linewidth(1.3)
    axA_b.xaxis.set_major_locator(MultipleLocator(1))
    axA_b.xaxis.set_minor_locator(MultipleLocator(0.5))
    axA_b.tick_params(axis="x", which="both", length=5, width=1.2, labelsize=11, pad=4)

    for x0, x1, c in zip(epochA_edges[:-1], epochA_edges[1:], epoch_colors):
        axA_b.axvspan(x0, x1, ymin=0.005, ymax=0.052, color=c, lw=0, zorder=1)
    for ax, box in ((axA_g, box_1208), (axA_o, box_1010), (axA_b, box_1021)):
        ax.fill_between([box[0], box[1]], [box[2]] * 2, [box[3]] * 2, color="#F4B0B0", alpha=0.6, lw=0, zorder=1)
    axA_g.plot(odp1208_age, odp1208_sst, color=G_LINE, lw=1.2, zorder=3)
    axA_o.plot(odp1010_age, odp1010_sst, color=O_LINE, lw=1.2, zorder=3)
    axA_b.plot(odp1021_age, odp1021_sst, color=B_LINE, lw=1.2, zorder=3)

    ftext(fig, 31, 46, "SST (Uk37)", rotation=90, color=G_AX, fontsize=12)
    ftext(fig, 31, 146, "SST (Uk37)", rotation=90, color="black", fontsize=12)
    ftext(fig, 738, 92, "SST (Uk37)", rotation=270, color=O_AX, fontsize=12)
    ftext(fig, 182, 24, "ODP 1208", color="#2E9E50", fontsize=12)
    ftext(fig, 528, 80, "ODP 1010", color=O_AX, fontsize=12)
    ftext(fig, 610, 133, "ODP 1021", color="#2FA0D0", fontsize=12)
    ftext(fig, 578, 163, "North Pacific", fontsize=15.5)
    ftext(fig, 675, 165, "A", fontsize=21)
    ftext(fig, 391, 234, "Ma", fontsize=11)

    lower_xlim = (2.973, 6.201)

    # ---------- B ----------
    axB = add_ax(fig, 95, 254, 690, 418)
    axB.set_xlim(*lower_xlim)
    yaxis(axB, "left", (4.25, 2.12), (2.236, 4.24), [2.5, 3.0, 3.5, 4.0], length=14)
    axB.spines["top"].set_visible(True)
    axB.spines["top"].set_color("#666666")
    axB.spines["top"].set_linewidth(1.0)
    cloud_x = np.concatenate([cloud_age_b, cloud_age_a, cloud_age_b, cloud_age_a, cloud_age_b, cloud_age_a,
                              outlier_age])
    cloud_y = np.concatenate([cloud_top, cloud_upper, cloud_mid_upper, cloud_mid_lower, cloud_lower, cloud_bottom,
                              outlier_d18o])
    axB.scatter(cloud_x, cloud_y, s=36, color="#C6A9EA", lw=0, zorder=1)
    axB.plot(benthic_age, benthic_d18o, color="#4B0C9C", lw=1.3, zorder=3)
    means(axB, benthic_mean_start, benthic_mean_end, benthic_mean)
    ftext(fig, 32, 341, "Benthic δ$^{18}$O", rotation=90, fontsize=12.5)
    ftext(fig, 675, 270, "B", fontsize=21)

    # ---------- C ----------
    axC = add_ax(fig, 95, 383, 690, 630)
    axC.set_xlim(*lower_xlim)
    yaxis(axC, "right", (21.45, 25.71), (21.45, 25.71), [22, 23, 24, 25], length=10)
    axC.plot(c_raw_age, c_raw, color="#F3C472", lw=0.9, alpha=0.85, zorder=2)
    axC.plot(c_smooth_age, c_smooth, color="#E2A030", lw=1.8, zorder=3)
    means(axC, c_mean_start, c_mean_end, c_mean)
    ftext(fig, 611, 449, "ODP 590B", color="#E2A440", fontsize=13)
    ftext(fig, 675, 418, "C", fontsize=21)
    ftext(fig, 760, 502, "SST °C (Mg/Ca)", rotation=270, fontsize=12.5)

    # ---------- D ----------
    axD = add_ax(fig, 95, 570, 690, 850)
    axD.set_xlim(*lower_xlim)
    yaxis(axD, "left", (22.06, 26.92), (22.55, 26.66), [23, 24, 25, 26], length=10)
    axD.plot(d_raw_age, d_raw, color="#A9CDDD", lw=0.9, zorder=2)
    axD.plot(d_smooth_age, d_smooth, color="#1F9E98", lw=1.8, zorder=3)
    means(axD, d_mean_start, d_mean_end, d_mean)
    ftext(fig, 611, 646, "ODP 763", color="#1F9E98", fontsize=13)
    ftext(fig, 675, 650, "D", fontsize=21)
    ftext(fig, 28, 697, "SST °C (Mg/Ca)", rotation=90, fontsize=12.5)

    # ---------- E ----------
    axE = add_ax(fig, 95, 752, 690, 978)
    axE.set_xlim(*lower_xlim)
    yaxis(axE, "right", (160, 2369), (160, 2369), [500, 1000, 1500, 2000], [250, 750, 1250, 1750, 2250],
          length=10)
    segments = [
        (e1_age, e1_med, e1_in_lo, e1_in_hi, e1_out_lo, e1_out_hi),
        (e2_age, e2_med, e2_in_lo, e2_in_hi, e2_out_lo, e2_out_hi),
        (e3_age, e3_med, e3_in_lo, e3_in_hi, e3_out_lo, e3_out_hi),
        (e4_age, e4_med, e4_in_lo, e4_in_hi, e4_out_lo, e4_out_hi),
    ]
    for age, med, ilo, ihi, olo, ohi in segments:
        axE.fill_between(age, olo, ohi, color="#FFB8BB", lw=0, zorder=1)
        axE.fill_between(age, ilo, ihi, color="#E29A9C", lw=0, zorder=2)
        axE.plot(age, med, color="#C40000", lw=2.2, zorder=3)
    axE.hlines(modern_map, modern_map_start, lower_xlim[1], color="black", lw=1.1,
               linestyles=(0, (5, 5)), zorder=3)
    ftext(fig, 610, 871, "Nullarbor\nmean annual\nprecipitation", fontsize=14.5, linespacing=1.15)
    ftext(fig, 168, 957, "modern Nullarbor precipitation", ha="left", fontsize=14.4)
    ftext(fig, 675, 811, "E", fontsize=21)
    ftext(fig, 765, 865, "MAP (mm)", rotation=270, fontsize=12.5)

    # ---------- F ----------
    axF = add_ax(fig, 95, 830, 690, 1068)
    axF.set_xlim(*lower_xlim)
    axF.set_zorder(1)
    yaxis(axF, "left", (0, 62.1), (0, 52), [0, 20, 40], length=10)
    axF.fill_between(f_age, 0, f_ird, color="#70ACAB", lw=0, zorder=2)
    means(axF, f_mean_start, f_mean_end, f_mean)
    ftext(fig, 612, 1021, "ODP 1165", color="#1F8C86", fontsize=13)
    ftext(fig, 675, 1023, "F", fontsize=21)
    ftext(fig, 24, 963, "Ice rafted debris\n(g cm$^{-2}$ kyr$^{-1}$)", rotation=90, fontsize=12.5,
          linespacing=1.1)

    # ---------- G ----------
    axG = add_ax(fig, 95, 990, 690, 1163)
    axG.set_xlim(*lower_xlim)
    yaxis(axG, "right", (0, 15.9), (0, 15.6), [0, 5, 10, 15], length=12)
    axG.fill_between(g_age, 0, g_opal, color="#E3C27F", lw=0, zorder=2)
    means(axG, g_mean_start, g_mean_end, g_mean)
    ftext(fig, 612, 1080, "ODP 1095", color="#D9A347", fontsize=13)
    ftext(fig, 675, 1085, "G", fontsize=21)
    ftext(fig, 772, 1075, "Opal deposition\n(g/cm$^{-2}$ kyr$^{-1}$)", rotation=270, fontsize=12.5,
          linespacing=1.1)

    # ---------- H ----------
    axH = add_ax(fig, 95, 1170, 690, 1335)
    axH.set_xlim(*lower_xlim)
    yaxis(axH, "left", (150.4, 540), (150.4, 540), [200, 300, 400, 500], [250, 350, 450], length=11)
    axH.spines["bottom"].set_visible(True)
    axH.spines["bottom"].set_linewidth(1.3)
    axH.set_xticks([3.0, 3.5, 4.0, 4.5, 5.0, 5.5, 6.0])
    axH.xaxis.set_minor_locator(MultipleLocator(0.1))
    axH.tick_params(axis="x", which="major", length=11, width=1.2, labelsize=15.5, pad=8)
    axH.tick_params(axis="x", which="minor", length=5.5, width=1.2)
    axH.fill_between(gray_age, gray_lo, gray_hi, color="#B9B9B9", lw=0, zorder=1)
    axH.fill_between(band_age, band_lo, band_hi, color="#FDB73F", lw=0, zorder=2)
    axH.fill_between(cyan_age, cyan_lo, cyan_hi, color="#6BDAD4", lw=0, zorder=2)
    axH.plot(trend_age, trend_co2, color="#1E9A55", lw=1.2, zorder=3)
    co2 = np.array(boron_co2)
    yerr = [co2 - np.array(boron_lo), np.array(boron_hi) - co2]
    axH.errorbar(boron_age, boron_co2, yerr=yerr, fmt="o", color="#1E9A55", ms=9, capsize=5.5,
                 elinewidth=1.2, capthick=1.2, zorder=4)
    for x0, x1, c, name in zip(epochH_edges[:-1], epochH_edges[1:], epoch_colors, epoch_names):
        axH.axvspan(x0, x1, ymin=0.012, ymax=0.164, color=c, lw=0, zorder=1)
        axH.text((x0 + x1) / 2, 184, name, ha="center", va="center", fontsize=10.5, color="#222222", zorder=2)
    ftext(fig, 30, 1253, "pCO$_2$", rotation=90, fontsize=13)
    ftext(fig, 675, 1211, "H", fontsize=21)
    ftext(fig, 391, 1394, "Age (Ma)", fontsize=15.5)

    # ---------- yellow highlight linking A to the lower panels ----------
    inv = fig.transFigure.inverted()

    def fx(ax, age):
        return inv.transform(ax.transData.transform((age, 0)))[0]

    ya_top = 1 - 19 / H
    ya_bot = axA_b.get_position().y0
    yb_top = axB.get_position().y1
    yg_bot = axG.get_position().y0
    pts = [(fx(axA_b, HL[0]), ya_top), (fx(axA_b, HL[1]), ya_top), (fx(axA_b, HL[1]), ya_bot),
           (fx(axB, HL[1]), yb_top), (fx(axB, HL[1]), yg_bot), (fx(axB, HL[0]), yg_bot),
           (fx(axB, HL[0]), yb_top), (fx(axA_b, HL[0]), ya_bot)]
    fig.add_artist(Polygon(pts, closed=True, transform=fig.transFigure, facecolor=YELLOW,
                           edgecolor="none", zorder=-1))

    fig.savefig("out.png", dpi=100)


if __name__ == "__main__":
    main()
